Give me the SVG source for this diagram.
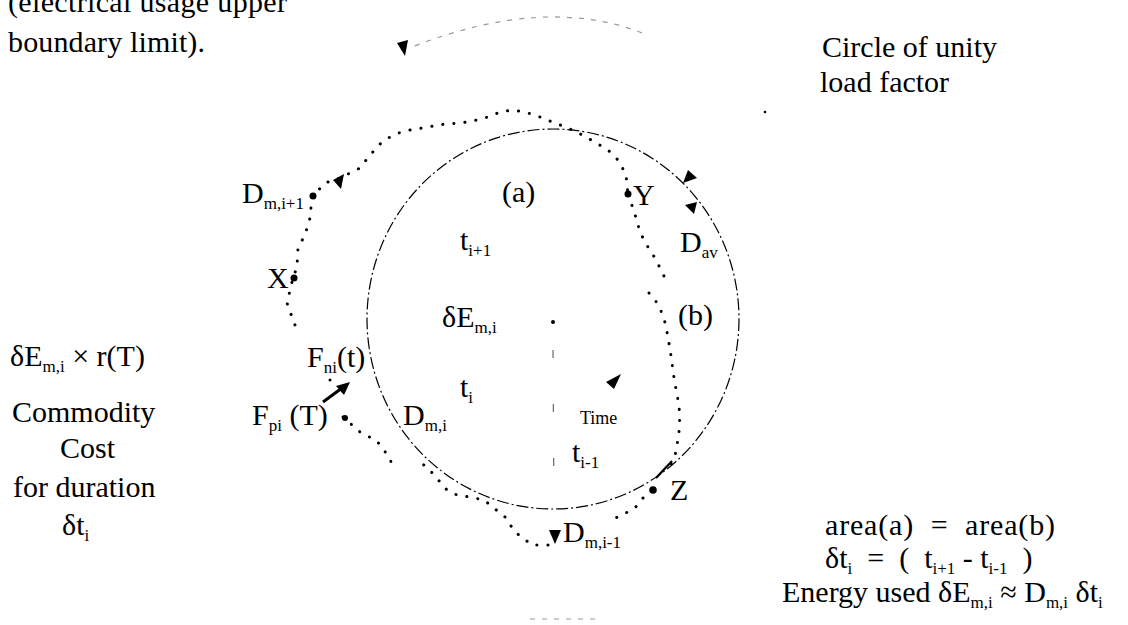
<svg xmlns="http://www.w3.org/2000/svg" width="1128" height="625" viewBox="0 0 1128 625">
<style>
.t{font-family:"Liberation Serif","Times New Roman",serif;font-size:30px;fill:#000}
.s{font-size:17px}
.sm{font-size:18px}
.dot{fill:none;stroke:#000;stroke-width:3;stroke-linecap:round;stroke-linejoin:round;stroke-dasharray:0.1 11}
.circ{fill:none;stroke:#000;stroke-width:1.2;stroke-dasharray:12 3 2 3}
.faint{fill:none;stroke:#999;stroke-width:1.2;stroke-dasharray:5 7}
.axis{fill:none;stroke:#666;stroke-width:1.2;stroke-dasharray:8 46}
.pt{fill:#000}
</style>
<rect width="1128" height="625" fill="#fff"/>
<g id="connectors">
  <ellipse class="circ" cx="553" cy="319" rx="186" ry="190"/>
  <path class="faint" d="M642,33 Q545,-5 412,47"/>
  <path class="faint" d="M530,619 L598,619"/>
  <path class="axis" d="M553,350 L554,512"/>
  <path class="dot" d="M312,197 L325,183 L340,178 L360,168 L370,155 L382,142 L395,134 L410,130 L428,127 L445,124 L460,123 L473,121 L488,117 L500,112 L512,110 L525,112 L540,117 L555,123 L575,131 L593,141 L608,150 L619,161 L626,175 L628,195"/>
  <path class="dot" d="M628,195 L634,211 L640,232 L646,244 L655,258 L664,276"/>
  <path class="dot" d="M649,293 L658,304 L664,318 L668,337 L671,356 L674,378 L678,400 L680,415 L679,432 L676,452 L671,464"/>
  <path class="dot" d="M643,498 L635,508 L622,515 L609,521"/>
  <path class="dot" d="M548,545 L532,545 L515,532 L505,517 L484,500 L470,497 L457,495 L447,490 L428,468 L417,460"/>
  <path class="dot" d="M343,417 L360,432 L377,441 L386,453 L394,467"/>
  <path class="dot" d="M312,197 L310,218 L305,235 L298,248 L297,267 L293,278 L287,303 L292,317 L298,333"/>
  <path class="dot" d="M330,380 L330,381"/>
  <path d="M656,478 L672,461" stroke="#000" stroke-width="2.2" fill="none"/>
  <path d="M323,402 L342,388" stroke="#000" stroke-width="3" fill="none"/>
  <polygon class="pt" points="350,382 336,386 344,395"/>
  <polygon class="pt" points="344,174 333,180 341,189"/>
  <polygon class="pt" points="397,43 408,40 405,56"/>
  <polygon class="pt" points="683,183 688,170 697,178"/>
  <polygon class="pt" points="685,205 697,202 694,214"/>
  <polygon class="pt" points="621,374 606,382 614,389"/>
  <polygon class="pt" points="549,530 561,530 555,544"/>
  <circle class="pt" cx="313" cy="196" r="3.5"/>
  <circle class="pt" cx="294" cy="278" r="3.5"/>
  <circle class="pt" cx="628" cy="194" r="3.5"/>
  <circle class="pt" cx="653" cy="490" r="3.8"/>
  <circle class="pt" cx="345" cy="418" r="3"/>
  <circle class="pt" cx="553" cy="322" r="2"/>
  <circle class="pt" cx="765" cy="112" r="1.3"/>
</g>
<g id="upper-limit"><text class="t" x="8" y="12" textLength="279">(electrical usage upper</text><text class="t" x="8" y="52" textLength="197">boundary limit).</text></g>
<g id="unity-circle"><text class="t" x="822" y="57">Circle of unity</text><text class="t" x="820" y="92">load factor</text></g>
<g id="D-mi1"><text class="t" x="242" y="203">D<tspan class="s" dy="6">m,i+1</tspan></text></g>
<g id="area-a"><text class="t" x="502" y="202">(a)</text></g>
<g id="Y"><text class="t" x="633" y="205">Y</text></g>
<g id="t-ip1"><text class="t" x="460" y="250">t<tspan class="s" dy="6">i+1</tspan></text></g>
<g id="D-av"><text class="t" x="680" y="252">D<tspan class="s" dy="6">av</tspan></text></g>
<g id="X"><text class="t" x="267" y="288">X</text></g>
<g id="dE"><text class="t" x="442" y="327">δE<tspan class="s" dy="6">m,i</tspan></text></g>
<g id="area-b"><text class="t" x="678" y="325">(b)</text></g>
<g id="cost"><text class="t" x="10" y="366">δE<tspan class="s" dy="6">m,i</tspan><tspan dy="-6"> × r(T)</tspan></text><text class="t" x="12" y="422">Commodity</text><text class="t" x="60" y="458">Cost</text><text class="t" x="13" y="497">for duration</text><text class="t" x="62" y="535">δt<tspan class="s" dy="6">i</tspan></text></g>
<g id="F-ni"><text class="t" x="307" y="367">F<tspan class="s" dy="6">ni</tspan><tspan dy="-6">(t)</tspan></text></g>
<g id="F-pi"><text class="t" x="252" y="425">F<tspan class="s" dy="6">pi</tspan><tspan dy="-6"> (T)</tspan></text></g>
<g id="t-i"><text class="t" x="460" y="397">t<tspan class="s" dy="6">i</tspan></text></g>
<g id="D-mi"><text class="t" x="403" y="425">D<tspan class="s" dy="6">m,i</tspan></text></g>
<g id="time"><text class="t sm" x="580" y="424">Time</text></g>
<g id="t-im1"><text class="t" x="572" y="462">t<tspan class="s" dy="6">i-1</tspan></text></g>
<g id="Z"><text class="t" x="670" y="500">Z</text></g>
<g id="D-mim1"><text class="t" x="563" y="542">D<tspan class="s" dy="6">m,i-1</tspan></text></g>
<g id="equations">
<text class="t" x="825" y="535" textLength="230" xml:space="preserve">area(a)  =  area(b)</text>
<text class="t" x="825" y="568" xml:space="preserve">δt<tspan class="s" dy="6">i</tspan><tspan dy="-6">  =  (  t</tspan><tspan class="s" dy="6">i+1</tspan><tspan dy="-6"> - t</tspan><tspan class="s" dy="6">i-1</tspan><tspan dy="-6">  )</tspan></text>
<text class="t" x="782" y="602" xml:space="preserve">Energy used δE<tspan class="s" dy="6">m,i</tspan><tspan dy="-6"> ≈ D</tspan><tspan class="s" dy="6">m,i</tspan><tspan dy="-6"> δt</tspan><tspan class="s" dy="6">i</tspan></text>
</g>
</svg>
